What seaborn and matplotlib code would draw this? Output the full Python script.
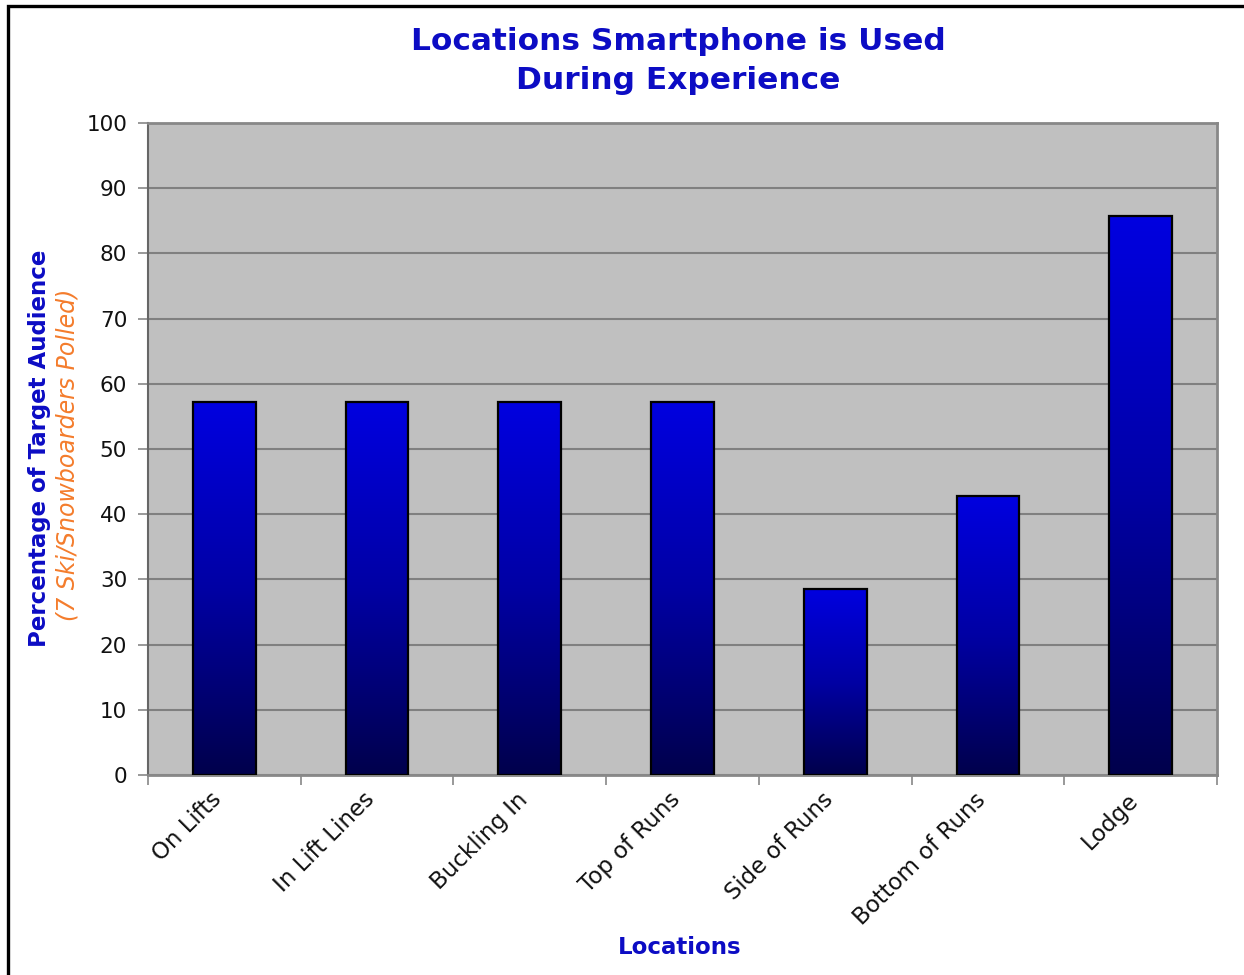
import numpy as np
import pandas as pd
import matplotlib
matplotlib.use("Agg")
import matplotlib.pyplot as plt
from matplotlib.colors import LinearSegmentedColormap
from matplotlib.patches import Rectangle
from matplotlib.transforms import ScaledTranslation
import seaborn as sns

# Survey results: share of the 7 polled skiers/snowboarders
locations = ["On Lifts", "In Lift Lines", "Buckling In", "Top of Runs",
             "Side of Runs", "Bottom of Runs", "Lodge"]
percentages = [57.14, 57.14, 57.14, 57.14, 28.57, 42.86, 85.71]
y_ticks = [0, 10, 20, 30, 40, 50, 60, 70, 80, 90, 100]

df = pd.DataFrame({"Location": locations, "Percent": percentages})

sns.set_theme(style="white")
plt.rcParams["font.family"] = ["DejaVu Sans"]

fig = plt.figure(figsize=(12.44, 9.75), dpi=100)
ax = fig.add_axes([148 / 1244, 1 - 775 / 975, (1217 - 148) / 1244, (775 - 123) / 975])

sns.barplot(data=df, x="Location", y="Percent", ax=ax, width=0.41,
            color="#0000aa", edgecolor="black", linewidth=1.6, zorder=3)

# Vertical blue gradient inside each bar (bright top, navy bottom)
cmap = LinearSegmentedColormap.from_list("bar_grad", ["#00004c", "#0000a4", "#0000e0"])
grad = np.linspace(0, 1, 256).reshape(-1, 1)
for patch in ax.patches:
    x0, y0 = patch.get_x(), patch.get_y()
    w, h = patch.get_width(), patch.get_height()
    patch.set_facecolor("none")
    patch.set_zorder(4)
    im = ax.imshow(grad, cmap=cmap, origin="lower", aspect="auto",
                   extent=[x0, x0 + w, y0, y0 + h], zorder=3.5,
                   interpolation="bilinear")
    im.set_clip_path(patch)

ax.set_xlim(-0.5, len(locations) - 0.5)
ax.set_ylim(0, 100)
ax.set_yticks(y_ticks)
ax.set_facecolor("#c0c0c0")
ax.set_axisbelow(True)
ax.yaxis.grid(True, color="#808080", linewidth=1.5, zorder=1)
ax.xaxis.grid(False)

for side in ["top", "right", "bottom"]:
    ax.spines[side].set_color("#888888")
    ax.spines[side].set_linewidth(2.0)
ax.spines["left"].set_color("#666666")
ax.spines["left"].set_linewidth(1.5)

# Category boundary ticks below the axis
ax.set_xticks(np.arange(-0.5, len(locations), 1), minor=True)
ax.tick_params(axis="x", which="major", length=0, pad=8)
ax.tick_params(axis="x", which="minor", length=7, width=1.2, color="#888888",
               direction="out", bottom=True)
ax.tick_params(axis="y", which="major", length=7, width=1.2, color="#888888",
               direction="out", left=True, pad=8, labelsize=15.5, labelcolor="#111111")

ax.set_xticks(range(len(locations)))
ax.set_xticklabels(locations, rotation=45, ha="right", rotation_mode="anchor",
                   fontsize=16.5, color="#111111")
shift = ScaledTranslation(-14 / 100, -2 / 100, fig.dpi_scale_trans)
for lbl in ax.get_xticklabels():
    lbl.set_transform(lbl.get_transform() + shift)
ax.set_xlabel("")
ax.set_ylabel("")

title_color = "#0c0cc4"
fig.text(678 / 1244, 1 - 61 / 975, "Locations Smartphone is Used\nDuring Experience",
         ha="center", va="center", fontsize=22.5, fontweight="bold", color=title_color,
         linespacing=1.4)
fig.text(680 / 1244, 1 - 948 / 975, "Locations", ha="center", va="center",
         fontsize=16.5, fontweight="bold", color=title_color)
fig.text(40 / 1244, 1 - 448 / 975, "Percentage of Target Audience", rotation=90,
         ha="center", va="center", fontsize=16.5, fontweight="bold", color=title_color)
fig.text(68 / 1244, 1 - 455 / 975, "(7 Ski/Snowboarders Polled)", rotation=90,
         ha="center", va="center", fontsize=17, fontstyle="italic", color="#f47c2c")

# Outer frame around the chart
fig.patches.append(Rectangle((8 / 1244, -0.1), 1.2, 1.1 - 6 / 975,
                             transform=fig.transFigure, fill=False,
                             edgecolor="black", linewidth=2.4))

fig.savefig("out.png", dpi=100, facecolor="white")
